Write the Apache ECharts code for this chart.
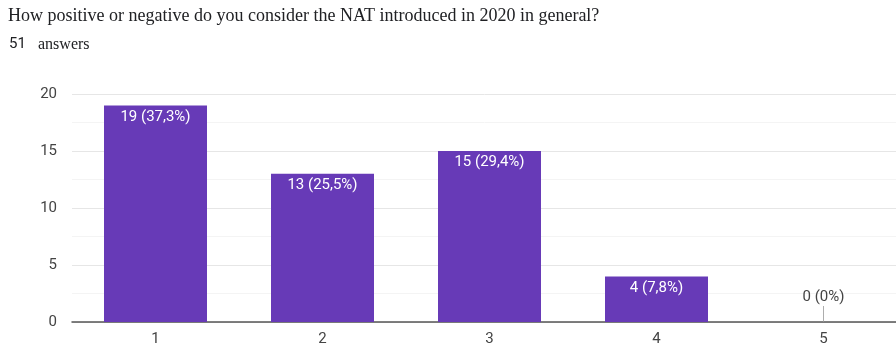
<!DOCTYPE html>
<html>
<head>
<meta charset="utf-8">
<script src="https://cdn.jsdelivr.net/npm/echarts@6/dist/echarts.min.js"></script>
<style>
  html, body { margin: 0; padding: 0; background: #fff; }
  #chart { width: 896px; height: 347px; }
</style>
</head>
<body>
<div id="chart"></div>
<script>
var categories = ['1', '2', '3', '4', '5'];
var counts = [19, 13, 15, 4, 0];
var percents = ['37,3%', '25,5%', '29,4%', '7,8%', '0%'];
var yTicks = [0, 5, 10, 15, 20];

var myChart = echarts.init(document.getElementById('chart'));

var barData = counts.map(function (v, i) {
    var item = { value: v };
    if (v === 0) {
        item.label = {
            position: 'top',
            distance: 17,
            color: '#444'
        };
    }
    return item;
});

// little grey stem for empty bars
var stemData = counts.map(function (v, i) {
    return v === 0 ? [categories[i], 0] : null;
}).filter(function (d) { return d; });

option = {
    animation: false,
    textStyle: { fontFamily: 'Roboto, Arial, sans-serif' },
    graphic: [
        {
            type: 'text', left: 8, top: 7,
            style: {
                text: 'How positive or negative do you consider the NAT introduced in 2020 in general?',
                font: '18px "Liberation Serif", "Times New Roman", serif',
                fill: '#202124'
            }
        },
        {
            type: 'text', left: 9, top: 37,
            style: {
                text: '51',
                font: '15px Roboto, Arial, sans-serif',
                fill: '#202124'
            }
        },
        {
            type: 'text', left: 38, top: 37,
            style: {
                text: 'answers',
                font: '16px "Liberation Serif", "Times New Roman", serif',
                fill: '#202124'
            }
        }
    ],
    grid: {
        left: 72,
        width: 835,
        top: 94,
        bottom: 25,
        outerBoundsMode: 'none',
        containLabel: false
    },
    xAxis: {
        type: 'category',
        data: categories,
        axisTick: { show: false },
        axisLine: { lineStyle: { color: '#555', width: 1.5 } },
        axisLabel: { color: '#444', fontSize: 15, margin: 10 }
    },
    yAxis: {
        type: 'value',
        min: yTicks[0],
        max: yTicks[yTicks.length - 1],
        interval: 5,
        axisLine: { show: false },
        axisTick: { show: false },
        axisLabel: { color: '#444', fontSize: 15, margin: 15 },
        splitLine: { lineStyle: { color: '#e6e6e6' } },
        minorTick: { show: false, splitNumber: 2 },
        minorSplitLine: { show: true, lineStyle: { color: '#f4f4f4' } }
    },
    series: [
        {
            type: 'bar',
            data: barData,
            barWidth: 103,
            itemStyle: { color: '#673ab7' },
            label: {
                show: true,
                position: 'insideTop',
                distance: 4,
                color: '#fff',
                fontSize: 15,
                formatter: function (p) {
                    return p.value + ' (' + percents[p.dataIndex] + ')';
                }
            },
            z: 3
        },
        {
            type: 'scatter',
            data: stemData,
            symbol: 'rect',
            symbolSize: [1, 16],
            symbolOffset: [0, -8],
            itemStyle: { color: '#999' },
            silent: true,
            z: 2
        }
    ]
};
myChart.setOption(option);
</script>
</body>
</html>
